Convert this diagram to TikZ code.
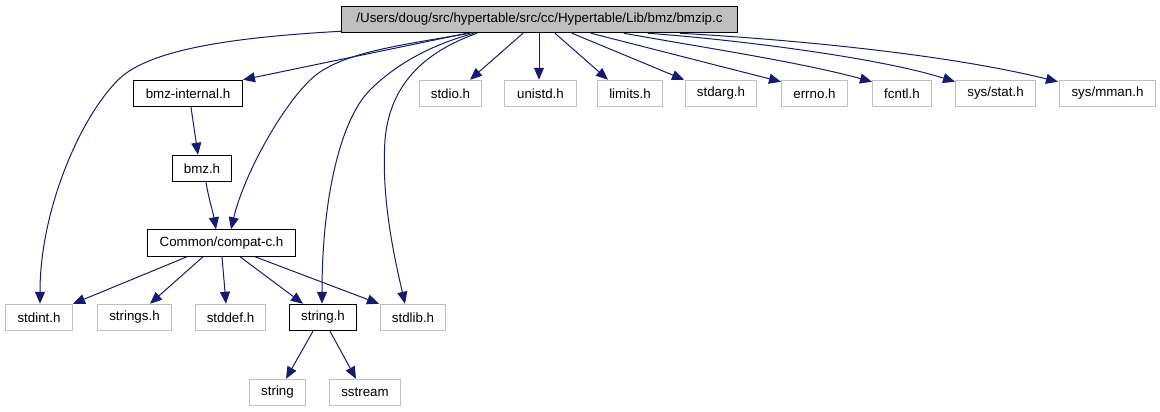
\documentclass[tikz,border=0pt]{standalone}
\usepackage{fontspec}
\setmainfont{Liberation Sans}
\usetikzlibrary{arrows.meta,calc}
\definecolor{edgec}{RGB}{25,25,112}
\definecolor{grayb}{RGB}{191,191,191}
\begin{document}
\begin{tikzpicture}[x=0.75pt,y=-0.75pt,
  nodebase/.style={minimum height=19.875pt, inner sep=0pt, anchor=west, font=\fontsize{10pt}{12pt}\selectfont, line width=0.75pt},
  mainbox/.style={nodebase, draw=black, fill=grayb},
  filebox/.style={nodebase, draw=black, fill=white},
  sysbox/.style={nodebase, draw=grayb, fill=white},
  conn/.style={draw=edgec, line width=0.75pt, -{Triangle[length=9pt,width=7.5pt]}}]
\useasboundingbox[fill=white] (0,0) rectangle (1160,411);
% nodes
\node[mainbox, minimum width=297pt] (main) at (341,19.5) {/Users/doug/src/hypertable/src/cc/Hypertable/Lib/bmz/bmzip.c};
\node[filebox, minimum width=81.75pt] (bmzint) at (133,93.5) {bmz-internal.h};
\node[sysbox, minimum width=46.5pt] (stdio) at (419,93.5) {stdio.h};
\node[sysbox, minimum width=54pt] (unistd) at (504,93.5) {unistd.h};
\node[sysbox, minimum width=48.75pt] (limits) at (597,93.5) {limits.h};
\node[sysbox, minimum width=53.25pt] (stdarg) at (685,93.5) {stdarg.h};
\node[sysbox, minimum width=49.5pt] (errno) at (781,93.5) {errno.h};
\node[sysbox, minimum width=44.25pt] (fcntl) at (872,93.5) {fcntl.h};
\node[sysbox, minimum width=60pt] (sysstat) at (955,93.5) {sys/stat.h};
\node[sysbox, minimum width=72pt] (sysmman) at (1059,93.5) {sys/mman.h};
\node[filebox, minimum width=44.25pt] (bmz) at (172,168.5) {bmz.h};
\node[filebox, minimum width=111pt] (compat) at (147,243) {Common/compat-c.h};
\node[sysbox, minimum width=50.25pt] (stdint) at (5,317.5) {stdint.h};
\node[sysbox, minimum width=55.5pt] (strings) at (97,317.5) {strings.h};
\node[sysbox, minimum width=52.5pt] (stddef) at (195,317.5) {stddef.h};
\node[filebox, minimum width=50.25pt] (stringh) at (289,317.5) {string.h};
\node[sysbox, minimum width=48.75pt] (stdlib) at (380,317.5) {stdlib.h};
\node[sysbox, minimum width=42pt] (strnode) at (249,392.5) {string};
\node[sysbox, minimum width=53.25pt] (sstream) at (329,392.5) {sstream};
% edges from main
\draw[conn] ($(main.south west)+(0,-2)$) .. controls (240,37) and (150,48) .. (118,80) .. controls (80,118) and (40,210) .. ($(stdint.north west)+(35,0)$);
\draw[conn] ($(main.south west)+(126,0)$) -- (bmzint.north east);
\draw[conn] ($(main.south west)+(129,0)$) .. controls (400,45) and (350,52) .. (320,72) .. controls (290,92) and (245,170) .. ($(compat.north west)+(84,0)$);
\draw[conn] ($(main.south west)+(133,0)$) .. controls (430,45) and (395,65) .. (370,90) .. controls (340,120) and (322,200) .. ($(stringh.north west)+(33,0)$);
\draw[conn] ($(main.south west)+(136,0)$) .. controls (430,50) and (390,80) .. (385,140) .. controls (381,200) and (395,260) .. ($(stdlib.north west)+(25,0)$);
\draw[conn] ($(main.south west)+(182,0)$) -- ($(stdio.north west)+(51,0)$);
\draw[conn] ($(main.south west)+(198,0)$) -- ($(unistd.north west)+(35,0)$);
\draw[conn] ($(main.south west)+(214,0)$) -- ($(limits.north west)+(11,0)$);
\draw[conn] ($(main.south west)+(231,0)$) -- ($(stdarg.north west)+(-1,0)$);
\draw[conn] ($(main.south west)+(250,0)$) -- ($(errno.north west)+(0,2)$);
\draw[conn] ($(main.south west)+(283,0)$) .. controls (700,47) and (800,62) .. ($(fcntl.north west)+(0,2)$);
\draw[conn] ($(main.south west)+(307,0)$) .. controls (740,40) and (880,58) .. ($(sysstat.north west)+(0,2)$);
\draw[conn] ($(main.south west)+(339,0)$) .. controls (800,40) and (950,55) .. ($(sysmman.north west)+(-1,2)$);
% inner edges
\draw[conn] ($(bmzint.south west)+(58,0)$) -- ($(bmz.north west)+(26,0)$);
\draw[conn] ($(bmz.south west)+(34,0)$) .. controls (209,200) and (213,212) .. ($(compat.north west)+(69,0)$);
\draw[conn] ($(compat.south west)+(40,0)$) -- (stdint.north east);
\draw[conn] ($(compat.south west)+(56,0)$) -- ($(strings.north west)+(53,0)$);
\draw[conn] ($(compat.south west)+(75,0)$) -- ($(stddef.north west)+(31,0)$);
\draw[conn] ($(compat.south west)+(93,0)$) -- ($(stringh.north west)+(14,0)$);
\draw[conn] ($(compat.south west)+(108,0)$) -- ($(stdlib.north west)+(-1,0)$);
\draw[conn] ($(stringh.south west)+(24,0)$) -- ($(strnode.north west)+(37,0)$);
\draw[conn] ($(stringh.south west)+(41,0)$) -- ($(sstream.north west)+(27,0)$);
\end{tikzpicture}
\end{document}
